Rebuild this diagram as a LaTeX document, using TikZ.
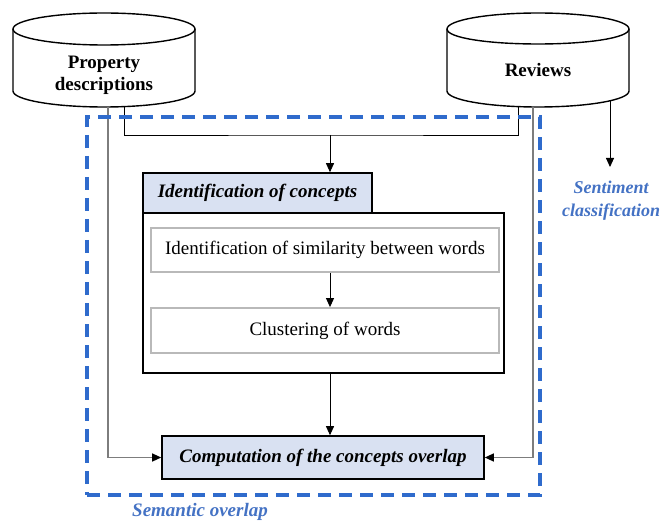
\documentclass[tikz,border=0pt]{standalone}
\usepackage{fontspec}
\setmainfont{Liberation Serif}
\usetikzlibrary{arrows.meta}
\definecolor{boxblue}{RGB}{217,225,242}
\definecolor{dashblue}{RGB}{47,107,204}
\definecolor{txtblue}{RGB}{68,114,196}
\definecolor{innergray}{RGB}{185,185,185}
\definecolor{linegray}{RGB}{125,125,125}
\begin{document}
\begin{tikzpicture}[x=1pt,y=-1pt,
  cyl/.style={draw, line width=1.4pt, fill=white},
  cyltext/.style={font=\fontsize{19}{22}\selectfont\bfseries, align=center, inner sep=0pt},
  plainfont/.style={font=\fontsize{19}{22}\selectfont},
  bifont/.style={font=\fontsize{19}{22}\selectfont\bfseries\itshape},
  conn/.style={draw, line width=0.9pt},
  arr/.style={conn, -{Triangle[width=8pt,length=9pt]}},
  grayarr/.style={draw=linegray, line width=1.2pt, -{Triangle[width=8pt,length=9pt,color=black]}},
  bluebox/.style={draw, line width=1.6pt, fill=boxblue, inner sep=0pt, bifont},
  graybox/.style={draw=innergray, line width=1.8pt, fill=white, inner sep=0pt, plainfont,
                  minimum width=348pt},
  bluelabel/.style={text=txtblue, inner sep=0pt}
]
\useasboundingbox (0,0) rectangle (663,521);

% ---- cylinders ----
\node[minimum width=182pt, minimum height=94pt, inner sep=0pt] (pd) at (104,60) {};
\path[cyl] (13,29) -- (13,91) .. controls (13,99.84) and (53.74,107) .. (104,107)
  .. controls (154.26,107) and (195,99.84) .. (195,91) -- (195,29)
  .. controls (195,20.16) and (154.26,13) .. (104,13)
  .. controls (53.74,13) and (13,20.16) .. (13,29) -- cycle;
\draw[line width=1.4pt] (13,29) .. controls (13,37.84) and (53.74,45) .. (104,45)
  .. controls (154.26,45) and (195,37.84) .. (195,29);
\node[cyltext] (pdt) at (104,75) {Property\\descriptions};

\node[minimum width=182pt, minimum height=94pt, inner sep=0pt] (rv) at (538,60) {};
\path[cyl] (447,29) -- (447,91) .. controls (447,99.84) and (487.74,107) .. (538,107)
  .. controls (588.26,107) and (629,99.84) .. (629,91) -- (629,29)
  .. controls (629,20.16) and (588.26,13) .. (538,13)
  .. controls (487.74,13) and (447,20.16) .. (447,29) -- cycle;
\draw[line width=1.4pt] (447,29) .. controls (447,37.84) and (487.74,44) .. (538,44)
  .. controls (588.26,44) and (629,37.84) .. (629,29);
\node[cyltext, anchor=base] (rvt) at (538,77) {Reviews};

% ---- boxes ----
\node[draw, line width=1.6pt, fill=white, minimum width=361pt, minimum height=160pt, inner sep=0pt] (idc) at (323.5,293) {};
\node[bluebox, minimum width=229pt, minimum height=40pt] (tab) at (257.5,193) {Identification of concepts};
\node[graybox, minimum height=44pt] (sim) at (325,250) {Identification of similarity between words};
\node[graybox, minimum height=45pt] (clus) at (325,330.5) {Clustering of words};
\node[bluebox, minimum width=322pt, minimum height=43pt] (comp) at (323,457.5) {Computation of the concepts overlap};

% ---- connectors ----
\coordinate (hj) at (330,135);
\draw[conn] ([xshift=20pt]pd.south) |- (hj) -| ([xshift=-20pt]rv.south);
\draw[arr] (hj) -- (hj |- tab.north);
\draw[grayarr] ([xshift=4pt]pd.south) |- (comp.west);
\draw[grayarr] ([xshift=-5pt]rv.south) |- (comp.east);
\coordinate (sa) at (610,101);
\coordinate (sb) at (610,167);
\draw[arr] (sa) -- (sb);
\draw[arr] (hj |- sim.south) -- (hj |- clus.north);
\draw[arr] (hj |- idc.south) -- (hj |- comp.north);

% ---- dashed region ----
\node[draw=dashblue, line width=3.6pt, dash pattern=on 13pt off 8pt,
      minimum width=453pt, minimum height=378pt, inner sep=0pt] (sem) at (313.5,306) {};

% ---- labels ----
\node[bluelabel, bifont, anchor=base] (semlabel) at (200,516) {Semantic overlap};
\node[bluelabel, font=\fontsize{18}{23}\selectfont\bfseries\itshape, align=center] (sentlabel) at (611,201) {Sentiment\\classification};
\end{tikzpicture}
\end{document}
